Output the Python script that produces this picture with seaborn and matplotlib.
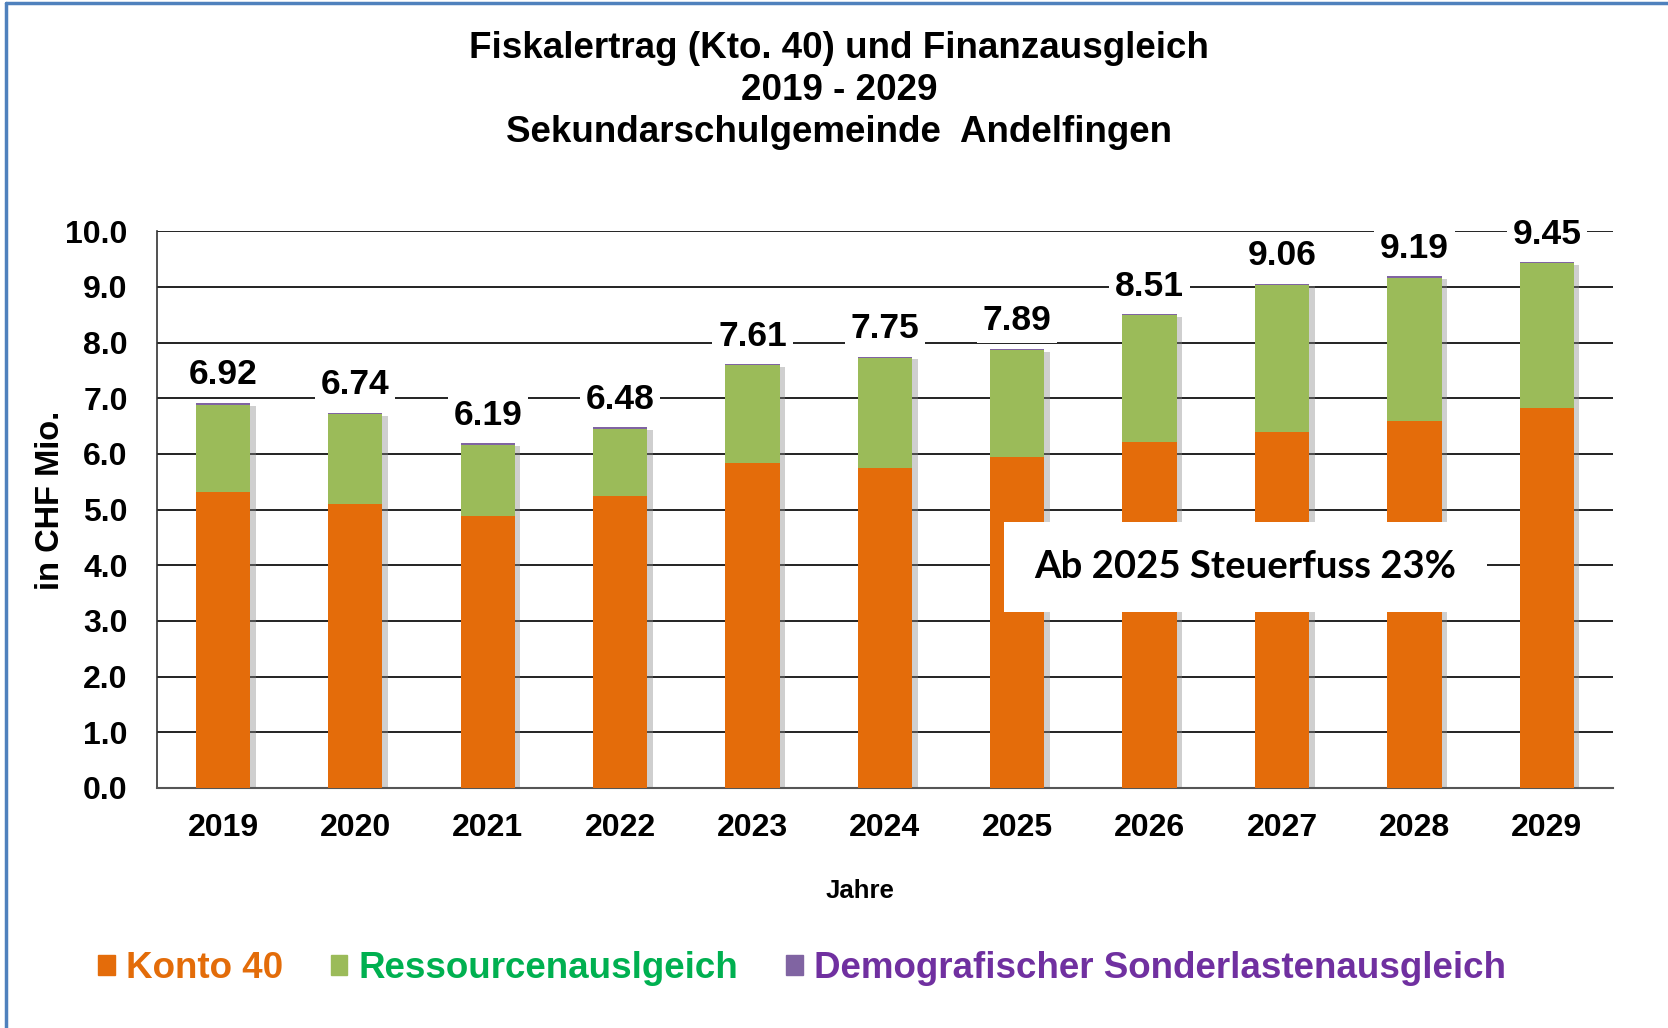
import numpy as np
import pandas as pd
import seaborn as sns
import matplotlib.pyplot as plt
import matplotlib.patheffects as pe
from matplotlib.patches import Rectangle
from matplotlib.lines import Line2D

# Fiskalertrag und Finanzausgleich, Werte in CHF Mio.
jahre = ['2019', '2020', '2021', '2022', '2023', '2024', '2025', '2026', '2027', '2028', '2029']
konto40 = [5.31, 5.11, 4.89, 5.25, 5.84, 5.74, 5.95, 6.22, 6.39, 6.60, 6.83]
total = [6.92, 6.74, 6.19, 6.48, 7.61, 7.75, 7.89, 8.51, 9.06, 9.19, 9.45]
demografie = [0.04, 0.03, 0.03, 0.03, 0.02, 0.02, 0.02, 0.02, 0.02, 0.02, 0.02]
yticks = [0, 1, 2, 3, 4, 5, 6, 7, 8, 9, 10]

df = pd.DataFrame({'Jahr': jahre, 'Konto40': konto40, 'Total': total, 'Demo': demografie})
df['Ressourcen'] = df['Total'] - df['Konto40'] - df['Demo']
df['bis_Ressourcen'] = df['Konto40'] + df['Ressourcen']

c_orange = '#E46C0A'
c_green = '#9BBB59'
c_purple = '#8064A2'

sns.set_style('white')
plt.rcParams['font.family'] = ['Liberation Sans', 'DejaVu Sans']
plt.rcParams['font.weight'] = 'bold'
plt.rcParams['text.color'] = 'black'
plt.rcParams['axes.labelcolor'] = 'black'
plt.rcParams['xtick.color'] = 'black'
plt.rcParams['ytick.color'] = 'black'

fig = plt.figure(figsize=(16.68, 10.28), dpi=100)
ax = fig.add_axes([0.094, 0.2335, 0.873, 0.5415])

shadow = [pe.SimplePatchShadow(offset=(4, -2), shadow_rgbFace='#888888', alpha=0.4), pe.Normal()]

# gestapelte Balken: von oben nach unten übereinander zeichnen
kw = dict(width=0.41, saturation=1, linewidth=0, ax=ax)
sns.barplot(data=df, x='Jahr', y='Total', color=c_purple, zorder=2, **kw)
sns.barplot(data=df, x='Jahr', y='bis_Ressourcen', color=c_green, zorder=3, **kw)
sns.barplot(data=df, x='Jahr', y='Konto40', color=c_orange, zorder=4, **kw)
for p in ax.patches[:len(jahre)]:
    p.set_path_effects(shadow)

ax.set_ylim(0, 10)
ax.set_xlim(-0.5, len(jahre) - 0.5)
ax.set_yticks(yticks)
ax.set_yticklabels([f'{v:.1f}' for v in yticks], fontsize=23, fontweight='bold')
ax.set_xticks(range(len(jahre)))
ax.set_xticklabels(jahre, fontsize=23, fontweight='bold')
ax.set_xticks(np.arange(-0.5, len(jahre), 1), minor=True)
ax.tick_params(axis='x', which='major', length=0, pad=18)
ax.tick_params(axis='x', which='minor', length=9, width=1.2, color='#333333', direction='out')
ax.tick_params(axis='y', length=7, width=1.2, color='#333333', direction='out', pad=14)
ax.yaxis.grid(True, color='#222222', linewidth=1.4, zorder=0)
ax.set_axisbelow(True)
for s in ['top', 'right']:
    ax.spines[s].set_visible(False)
ax.spines['left'].set_color('#333333')
ax.spines['bottom'].set_color('#555555')
ax.spines['left'].set_linewidth(1.2)
ax.spines['bottom'].set_linewidth(1.5)

ax.set_xlabel('Jahre', fontsize=18.5, fontweight='bold')
ax.xaxis.set_label_coords(0.483, -0.163)
ax.set_ylabel('in CHF Mio.', fontsize=23.5, fontweight='bold')
ax.yaxis.set_label_coords(-0.0626, 0.517)

for i, t in enumerate(total):
    ax.text(i, t + 0.5, f'{t:.2f}', ha='center', va='center', fontsize=25.5, fontweight='bold',
            zorder=6, bbox=dict(facecolor='white', edgecolor='none', pad=4))

# Hinweisbox
ax.add_patch(Rectangle((5.9, 3.16), 3.65, 1.62, facecolor='white', edgecolor='none', zorder=7))
ax.text(7.72, 3.97, 'Ab 2025 Steuerfuss 23%', ha='center', va='center', fontsize=27.5,
        fontweight='bold', family=['Lato', 'DejaVu Sans'], zorder=8)

tx = 0.503
fig.text(tx, 0.953, 'Fiskalertrag (Kto. 40) und Finanzausgleich', ha='center', va='center',
         fontsize=26.5, fontweight='bold')
fig.text(tx, 0.912, '2019 - 2029', ha='center', va='center', fontsize=26.5, fontweight='bold')
fig.text(tx, 0.871, 'Sekundarschulgemeinde  Andelfingen', ha='center', va='center',
         fontsize=26.5, fontweight='bold')

# Legende
handles = [Rectangle((0, 0), 1, 1, color=c) for c in [c_orange, c_green, c_purple]]
leg = fig.legend(handles, ['Konto 40', 'Ressourcenauslgeich', 'Demografischer Sonderlastenausgleich'],
                 loc='center left', bbox_to_anchor=(0.0585, 0.058), ncol=3, frameon=False,
                 prop={'size': 26.5, 'weight': 'bold'}, handlelength=0.46, handleheight=0.46,
                 handletextpad=0.3, columnspacing=1.3, borderpad=0, borderaxespad=0)
for txt, c in zip(leg.get_texts(), ['#E36C09', '#00B050', '#7030A0']):
    txt.set_color(c)

# blauer Rahmen oben und links
fig.add_artist(Line2D([6 / 1668, 1], [1 - 3 / 1028, 1 - 3 / 1028], color='#4F81BD', lw=2.5))
fig.add_artist(Line2D([6 / 1668, 6 / 1668], [0, 1 - 3 / 1028], color='#4F81BD', lw=2.5))

fig.savefig('out.png', dpi=100, facecolor='white')
